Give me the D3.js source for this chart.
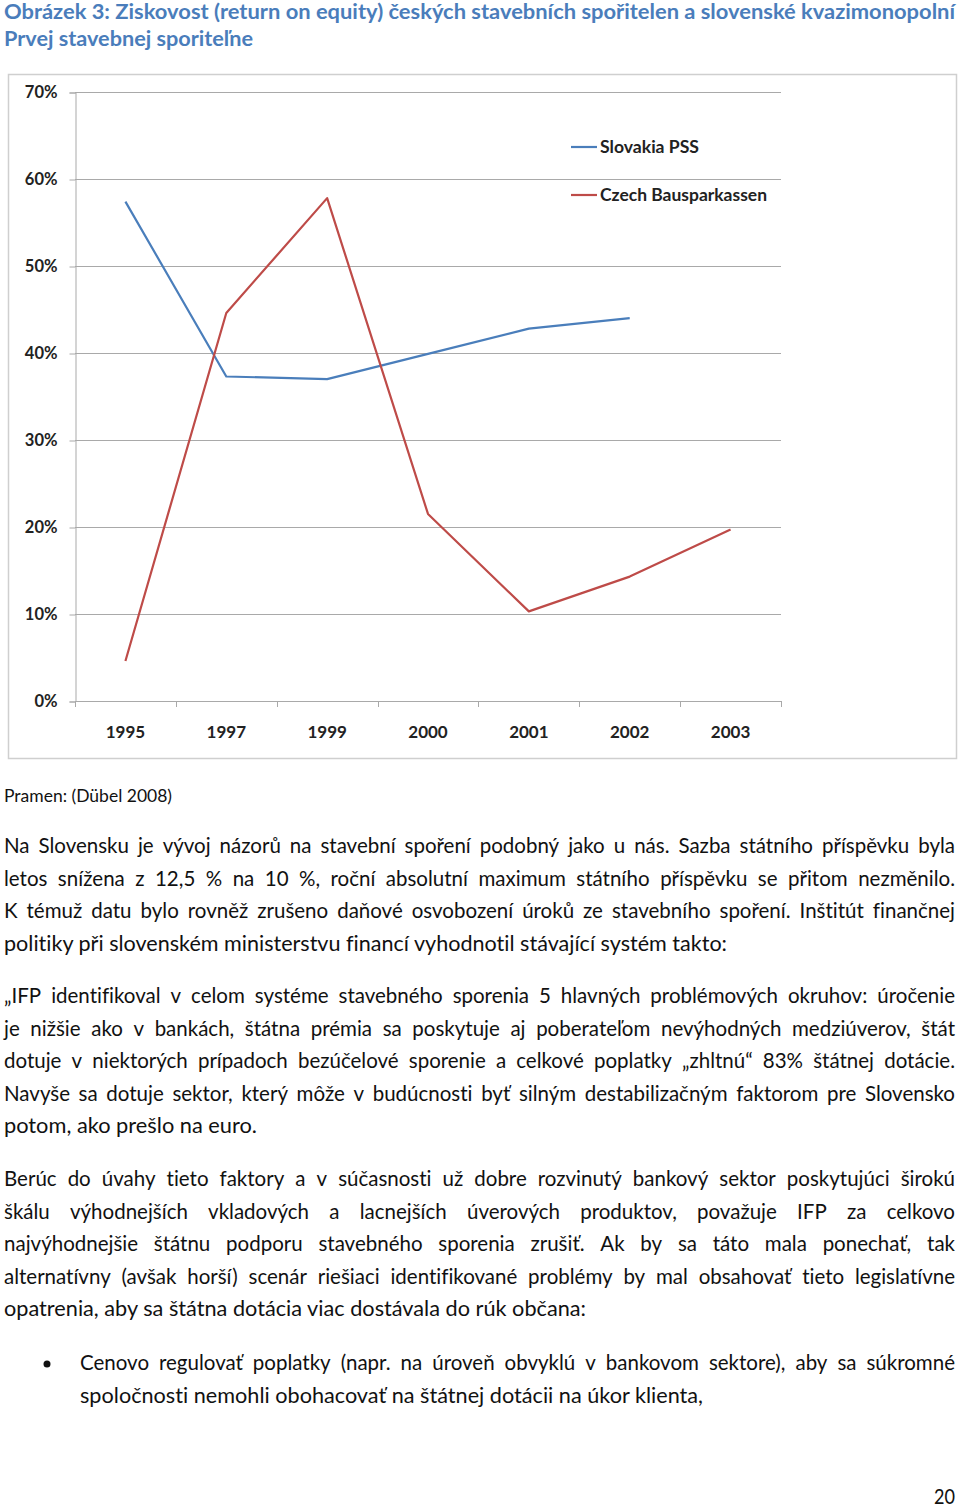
<!DOCTYPE html>
<html><head><meta charset="utf-8">
<script src="https://cdn.jsdelivr.net/npm/d3@7"></script>
<style>html,body{margin:0;padding:0;background:#fff;}svg{display:block;}text{font-variant-ligatures:none;font-feature-settings:"liga" 0;}</style>
</head><body>
<script>
// ---- data ----
const years = ["1995","1997","1999","2000","2001","2002","2003"];
const slovakiaPSS = [57.4, 37.3, 37.0, 39.9, 42.8, 44.0, null];
const czechBausparkassen = [4.6, 44.6, 57.8, 21.5, 10.3, 14.3, 19.7];
const yTicks = [0, 10, 20, 30, 40, 50, 60, 70];
const seriesNames = ["Slovakia PSS", "Czech Bausparkassen"];
const titleLines = ["Obrázek 3: Ziskovost (return on equity) českých stavebních spořitelen a slovenské kvazimonopolní",
                    "Prvej stavebnej sporiteľne"];
const sourceText = "Pramen: (Dübel 2008)";
const para1 = ["Na Slovensku je vývoj názorů na stavební spoření podobný jako u nás. Sazba státního příspěvku byla",
  "letos snížena z 12,5 % na 10 %, roční absolutní maximum státního příspěvku se přitom nezměnilo.",
  "K témuž datu bylo rovněž zrušeno daňové osvobození úroků ze stavebního spoření. Inštitút finančnej",
  "politiky při slovenském ministerstvu financí vyhodnotil stávající systém takto:"];
const para2 = ["„IFP identifikoval v celom systéme stavebného sporenia 5 hlavných problémových okruhov: úročenie",
  "je nižšie ako v bankách, štátna prémia sa poskytuje aj poberateľom nevýhodných medziúverov, štát",
  "dotuje v niektorých prípadoch bezúčelové sporenie a celkové poplatky „zhltnú“ 83% štátnej dotácie.",
  "Navyše sa dotuje sektor, který môže v budúcnosti byť silným destabilizačným faktorom pre Slovensko",
  "potom, ako prešlo na euro."];
const para3 = ["Berúc do úvahy tieto faktory a v súčasnosti už dobre rozvinutý bankový sektor poskytujúci širokú",
  "škálu výhodnejších vkladových a lacnejších úverových produktov, považuje IFP za celkovo",
  "najvýhodnejšie štátnu podporu stavebného sporenia zrušiť. Ak by sa táto mala ponechať, tak",
  "alternatívny (avšak horší) scenár riešiaci identifikované problémy by mal obsahovať tieto legislatívne",
  "opatrenia, aby sa štátna dotácia viac dostávala do rúk občana:"];
const bulletLines = ["Cenovo regulovať poplatky (napr. na úroveň obvyklú v bankovom sektore), aby sa súkromné",
  "spoločnosti nemohli obohacovať na štátnej dotácii na úkor klienta,"];
const pageNumber = "20";

// ---- layout ----
const W = 960, H = 1507;
const FONT = "Lato, 'Open Sans', sans-serif";
const svg = d3.select("body").append("svg").attr("width", W).attr("height", H);

function textLine(str, x, y, width, justify, size, weight, color) {
  const g = svg.append("g").attr("font-family", FONT).attr("font-size", size)
    .attr("font-weight", weight || "normal").attr("fill", color || "#111");
  if (!justify) {
    const t = g.append("text").attr("x", x).attr("y", y).text(str);
    if (width) t.attr("textLength", width).attr("lengthAdjust", "spacingAndGlyphs");
    return;
  }
  const words = str.split(" ");
  const meas = words.map(w => {
    const t = g.append("text").attr("x", 0).attr("y", -100).text(w);
    const l = t.node().getComputedTextLength(); t.remove(); return l;
  });
  const tmp = g.append("text").attr("y", -100).text("a a");
  const tmp2 = g.append("text").attr("y", -100).text("aa");
  const sp = tmp.node().getComputedTextLength() - tmp2.node().getComputedTextLength();
  tmp.remove(); tmp2.remove();
  const sum = d3.sum(meas);
  const natural = sum + sp * (words.length - 1);
  let scale = 1, gap;
  if (natural > width) { scale = width / natural; gap = sp * scale; }
  else gap = (width - sum) / (words.length - 1);
  let cx = x;
  words.forEach((w, i) => {
    const t = g.append("text").attr("x", cx).attr("y", y).text(w);
    const ww = meas[i] * scale;
    if (scale !== 1) t.attr("textLength", ww).attr("lengthAdjust", "spacingAndGlyphs");
    cx += ww + gap;
  });
}

// Title
textLine(titleLines[0], 4, 19, 951, false, 20.5, "bold", "#4a7dbb");
textLine(titleLines[1], 4, 46, 249, false, 20.5, "bold", "#4a7dbb");

// Chart frame
svg.append("rect").attr("x", 8.5).attr("y", 74.5).attr("width", 948).attr("height", 684)
  .attr("fill", "#fff").attr("stroke", "#cfcfcf").attr("stroke-width", 1.5);

const x = d3.scaleBand().domain(years).range([75, 781]);
const y = d3.scaleLinear().domain([0, 70]).range([701, 92]);

// gridlines
svg.append("g").selectAll("line").data(yTicks.filter(d => d > 0)).join("line")
  .attr("x1", 75).attr("x2", 781).attr("y1", d => y(d) + 0.5).attr("y2", d => y(d) + 0.5)
  .attr("stroke", "#a9a9a9").attr("stroke-width", 1);

// y axis
const yAxis = svg.append("g").attr("transform", "translate(75.5,0.5)")
  .call(d3.axisLeft(y).tickValues(yTicks).tickSize(6).tickPadding(12).tickFormat(d => d + "%"));
yAxis.select(".domain").attr("stroke", "#a9a9a9");
yAxis.selectAll(".tick line").attr("stroke", "#a9a9a9");
yAxis.selectAll(".tick text").attr("font-family", FONT).attr("font-size", 16.5)
  .attr("font-weight", "bold").attr("fill", "#222");

// x axis
const xAxis = svg.append("g").attr("transform", "translate(0,701.5)")
  .call(d3.axisBottom(x).tickSize(0).tickPadding(24));
xAxis.select(".domain").attr("stroke", "#a9a9a9").attr("d", "M75,0H781");
xAxis.selectAll(".tick text").attr("font-family", FONT).attr("font-size", 17)
  .attr("font-weight", "bold").attr("fill", "#222");
// boundary ticks
const bounds = years.map(d => x(d)).concat([x(years[years.length - 1]) + x.bandwidth()]);
svg.append("g").selectAll("line").data(bounds).join("line")
  .attr("x1", d => Math.round(d) + 0.5).attr("x2", d => Math.round(d) + 0.5)
  .attr("y1", 701).attr("y2", 707).attr("stroke", "#a9a9a9");

// lines
const lineGen = d3.line().defined(d => d.v != null)
  .x(d => x(d.k) + x.bandwidth() / 2).y(d => y(d.v));
const series = [
  { name: seriesNames[0], vals: slovakiaPSS, color: "#4a7ebb", w: 99 },
  { name: seriesNames[1], vals: czechBausparkassen, color: "#be4b48", w: 167 }
];
series.forEach(s => {
  svg.append("path").datum(years.map((k, i) => ({ k, v: s.vals[i] })))
    .attr("d", lineGen).attr("fill", "none").attr("stroke", s.color)
    .attr("stroke-width", 2.2).attr("stroke-linejoin", "round");
});

// legend
const leg = svg.append("g");
series.forEach((s, i) => {
  const ly = 147 + i * 48;
  leg.append("line").attr("x1", 571).attr("x2", 597).attr("y1", ly).attr("y2", ly)
    .attr("stroke", s.color).attr("stroke-width", 2.2);
  leg.append("text").attr("x", 600).attr("y", ly + 6).text(s.name)
    .attr("textLength", s.w).attr("lengthAdjust", "spacingAndGlyphs")
    .attr("font-family", FONT).attr("font-size", 16.5).attr("font-weight", "bold").attr("fill", "#222");
});

// source
textLine(sourceText, 4, 802, 168, false, 17, "normal", "#111");

// paragraphs
const LS = 32.5, FS = 20.5;
function para(lines, x0, y0, width, lastWidth) {
  lines.forEach((l, i) => {
    const last = i === lines.length - 1;
    textLine(l, x0, y0 + i * LS, last ? lastWidth : width, !last, FS, "normal", "#111");
  });
}
para(para1, 4, 853, 951, 723);
para(para2, 4, 1003, 951, 253);
para(para3, 4, 1186, 951, 582);
para(bulletLines, 80, 1370, 875, 623);
svg.append("circle").attr("cx", 47).attr("cy", 1364).attr("r", 3.5).attr("fill", "#111");

textLine(pageNumber, 934, 1504, 21, false, 20.5, "normal", "#111");
</script>
</body></html>
